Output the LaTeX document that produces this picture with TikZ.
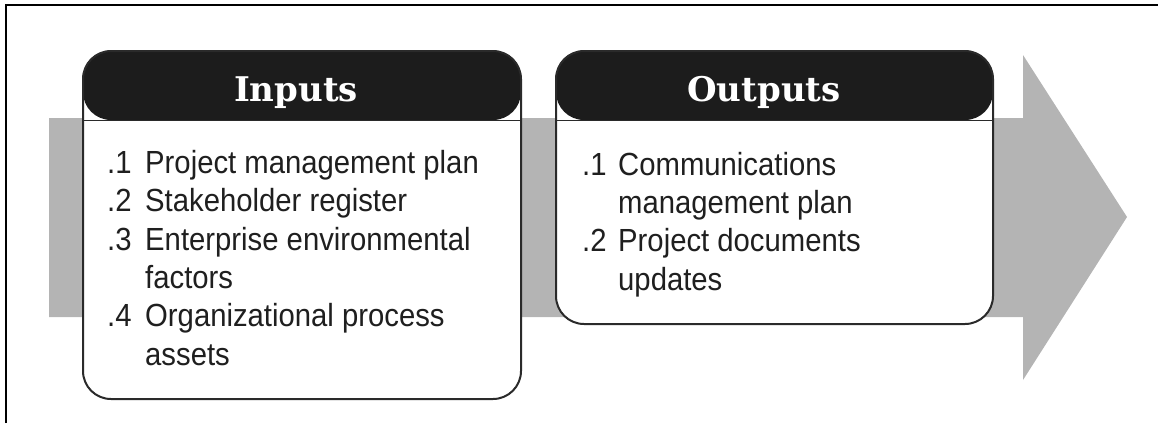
\documentclass[tikz,border=0pt]{standalone}
\usepackage{fontspec}
\setmainfont{Liberation Sans}
\newfontfamily\bodyfont[FakeStretch=0.915]{Liberation Sans}
\newfontfamily\headfont{DejaVu Serif}
\definecolor{hdr}{HTML}{1C1C1C}
\definecolor{flow}{HTML}{B4B4B4}
\definecolor{edge}{HTML}{2A2A2A}
\tikzset{
  panel/.style={draw=edge, line width=2pt, fill=white, rounded corners=28pt,
    inner sep=0pt, anchor=north west,
    path picture={\fill[hdr] (path picture bounding box.north west) rectangle
      ([yshift=-69pt]path picture bounding box.north east);
      \draw[edge, line width=1pt] ([yshift=-69pt]path picture bounding box.north west) --
      ([yshift=-69pt]path picture bounding box.north east);}},
  headtxt/.style={text=white, font=\headfont\bfseries\fontsize{34}{36}\selectfont,
    anchor=base, inner sep=0pt},
  item/.style={font=\bodyfont\fontsize{32}{38}\selectfont, text=black!88,
    anchor=base west, inner sep=0pt},
}
\begin{document}
\begin{tikzpicture}[x=1pt,y=-1pt]
\useasboundingbox (0,0) rectangle (1158,423);
% flow arrow
\fill[flow] (49,118) -- (1023,118) -- (1023,55) -- (1127,217) -- (1023,380)
  -- (1023,317) -- (49,317) -- cycle;
% frame
\draw[line width=2pt] (6,423) -- (6,5) -- (1158,5);
% panels
\node[panel, minimum width=438pt, minimum height=348pt] (inbox) at (82,50) {};
\node[panel, minimum width=437pt, minimum height=273pt] (outbox) at (555,50) {};
% headers
\node[headtxt] (inhead) at (296,101) {Inputs};
\node[headtxt] (outhead) at (764,101.5) {Outputs};
% input items
\node[item] (in1n) at (107,173.3) {.1};
\node[item] (in1) at (145,173.3) {Project management plan};
\node[item] (in2n) at (107,211.7) {.2};
\node[item] (in2) at (145,211.7) {Stakeholder register};
\node[item] (in3n) at (107,250) {.3};
\node[item] (in3) at (145,250) {Enterprise environmental};
\node[item] (in3b) at (145,288.3) {factors};
\node[item] (in4n) at (107,326.7) {.4};
\node[item] (in4) at (145,326.7) {Organizational process};
\node[item] (in4b) at (145,365) {assets};
% output items
\node[item] (out1n) at (582,175) {.1};
\node[item] (out1) at (618,175) {Communications};
\node[item] (out1b) at (618,213.3) {management plan};
\node[item] (out2n) at (582,251.7) {.2};
\node[item] (out2) at (618,251.7) {Project documents};
\node[item] (out2b) at (618,290) {updates};
\end{tikzpicture}
\end{document}
